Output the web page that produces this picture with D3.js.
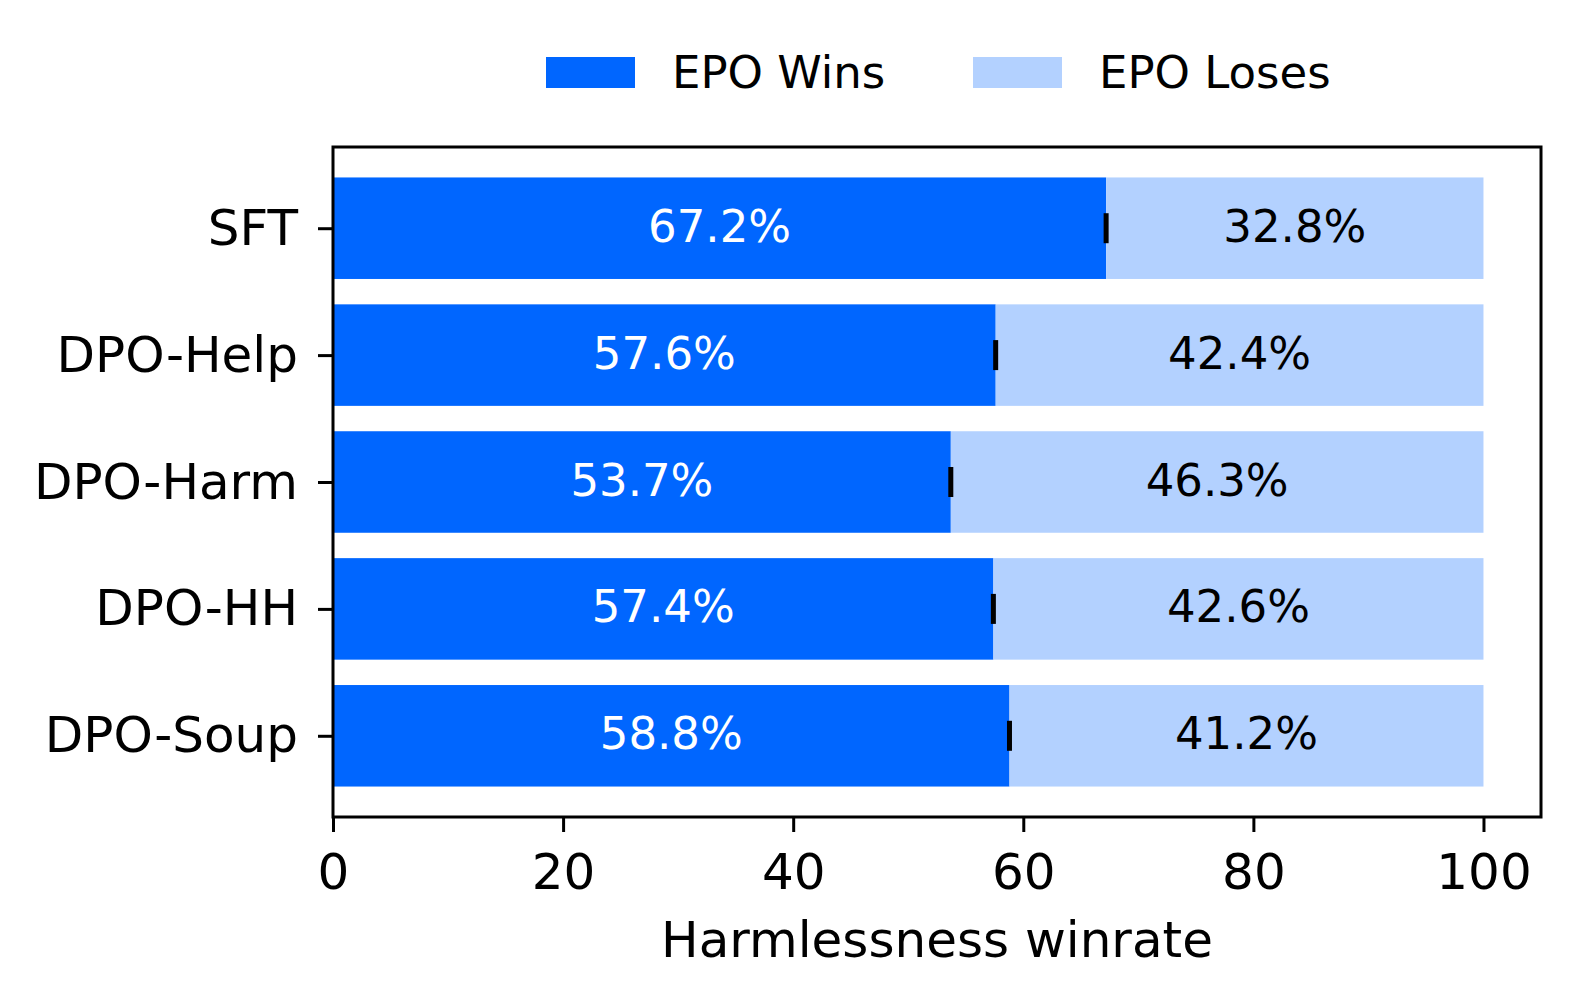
<!DOCTYPE html>
<html><head><meta charset="utf-8">
<script src="https://cdn.jsdelivr.net/npm/d3@7"></script>
<style>body{margin:0;background:#fff}svg{display:block}text{font-family:"DejaVu Sans";}</style>
</head><body>
<script>
const categories = ["SFT","DPO-Help","DPO-Harm","DPO-HH","DPO-Soup"];
const wins = [67.2,57.6,53.7,57.4,58.8];
const loses = [32.8,42.4,46.3,42.6,41.2];
const xTicks = [0,20,40,60,80,100];
const seriesNames = ["EPO Wins","EPO Loses"];
const colors = ["#0066ff","#b3d1ff"];

const W=1577,H=1004;
const L=333,R=1541,T=147,B=817;
const fs=50, fs2=45;
const svg=d3.select("body").append("svg").attr("width",W).attr("height",H);
const x=d3.scaleLinear().domain([0,105]).range([L,R]);
const y=d3.scaleLinear().domain([-0.64,4.64]).range([T,B]);
const bh=y(0.8)-y(0);

const g=svg.append("g");
categories.forEach((c,i)=>{
  g.append("rect").attr("x",x(0)).attr("y",y(i)-bh/2).attr("width",x(wins[i])-x(0)).attr("height",bh).attr("fill",colors[0]);
  g.append("rect").attr("x",x(wins[i])).attr("y",y(i)-bh/2).attr("width",x(wins[i]+loses[i])-x(wins[i])).attr("height",bh).attr("fill",colors[1]);
  g.append("rect").attr("x",x(wins[i])-2.5).attr("y",y(i)-15).attr("width",5).attr("height",30).attr("fill","#000");
  g.append("text").attr("x",x(wins[i]/2)).attr("y",y(i)).attr("dy","0.3em").attr("text-anchor","middle").attr("font-size",fs2).attr("fill","#fff").text(wins[i].toFixed(1)+"%");
  g.append("text").attr("x",x(wins[i]+loses[i]/2)).attr("y",y(i)).attr("dy","0.3em").attr("text-anchor","middle").attr("font-size",fs2).attr("fill","#000").text(loses[i].toFixed(1)+"%");
});

// frame
svg.append("rect").attr("x",L).attr("y",T).attr("width",R-L).attr("height",B-T).attr("fill","none").attr("stroke","#000").attr("stroke-width",3);

// x axis
const xa=svg.append("g").attr("transform",`translate(0,${B})`).call(d3.axisBottom(x).tickValues(xTicks).tickSize(15).tickPadding(21).tickFormat(d3.format("d")));
xa.select(".domain").remove();
xa.selectAll("line").attr("stroke-width",3);
xa.selectAll("text").attr("font-size",fs).attr("font-family","DejaVu Sans");

// y axis
const ya=svg.append("g").attr("transform",`translate(${L},0)`).call(d3.axisLeft(y).tickValues(d3.range(categories.length)).tickSize(15).tickPadding(20).tickFormat(i=>categories[i]));
ya.select(".domain").remove();
ya.selectAll("line").attr("stroke-width",3);
ya.selectAll("text").attr("font-size",fs).attr("font-family","DejaVu Sans");

svg.append("text").attr("x",x(52.5)).attr("y",957).attr("text-anchor","middle").attr("font-size",fs).text("Harmlessness winrate");

// legend
const lx=[546,973];
seriesNames.forEach((n,i)=>{
  svg.append("rect").attr("x",lx[i]).attr("y",57).attr("width",89).attr("height",31).attr("fill",colors[i]);
  svg.append("text").attr("x",lx[i]+126).attr("y",72).attr("dy","0.36em").attr("font-size",fs2).text(n);
});
</script>
</body></html>
